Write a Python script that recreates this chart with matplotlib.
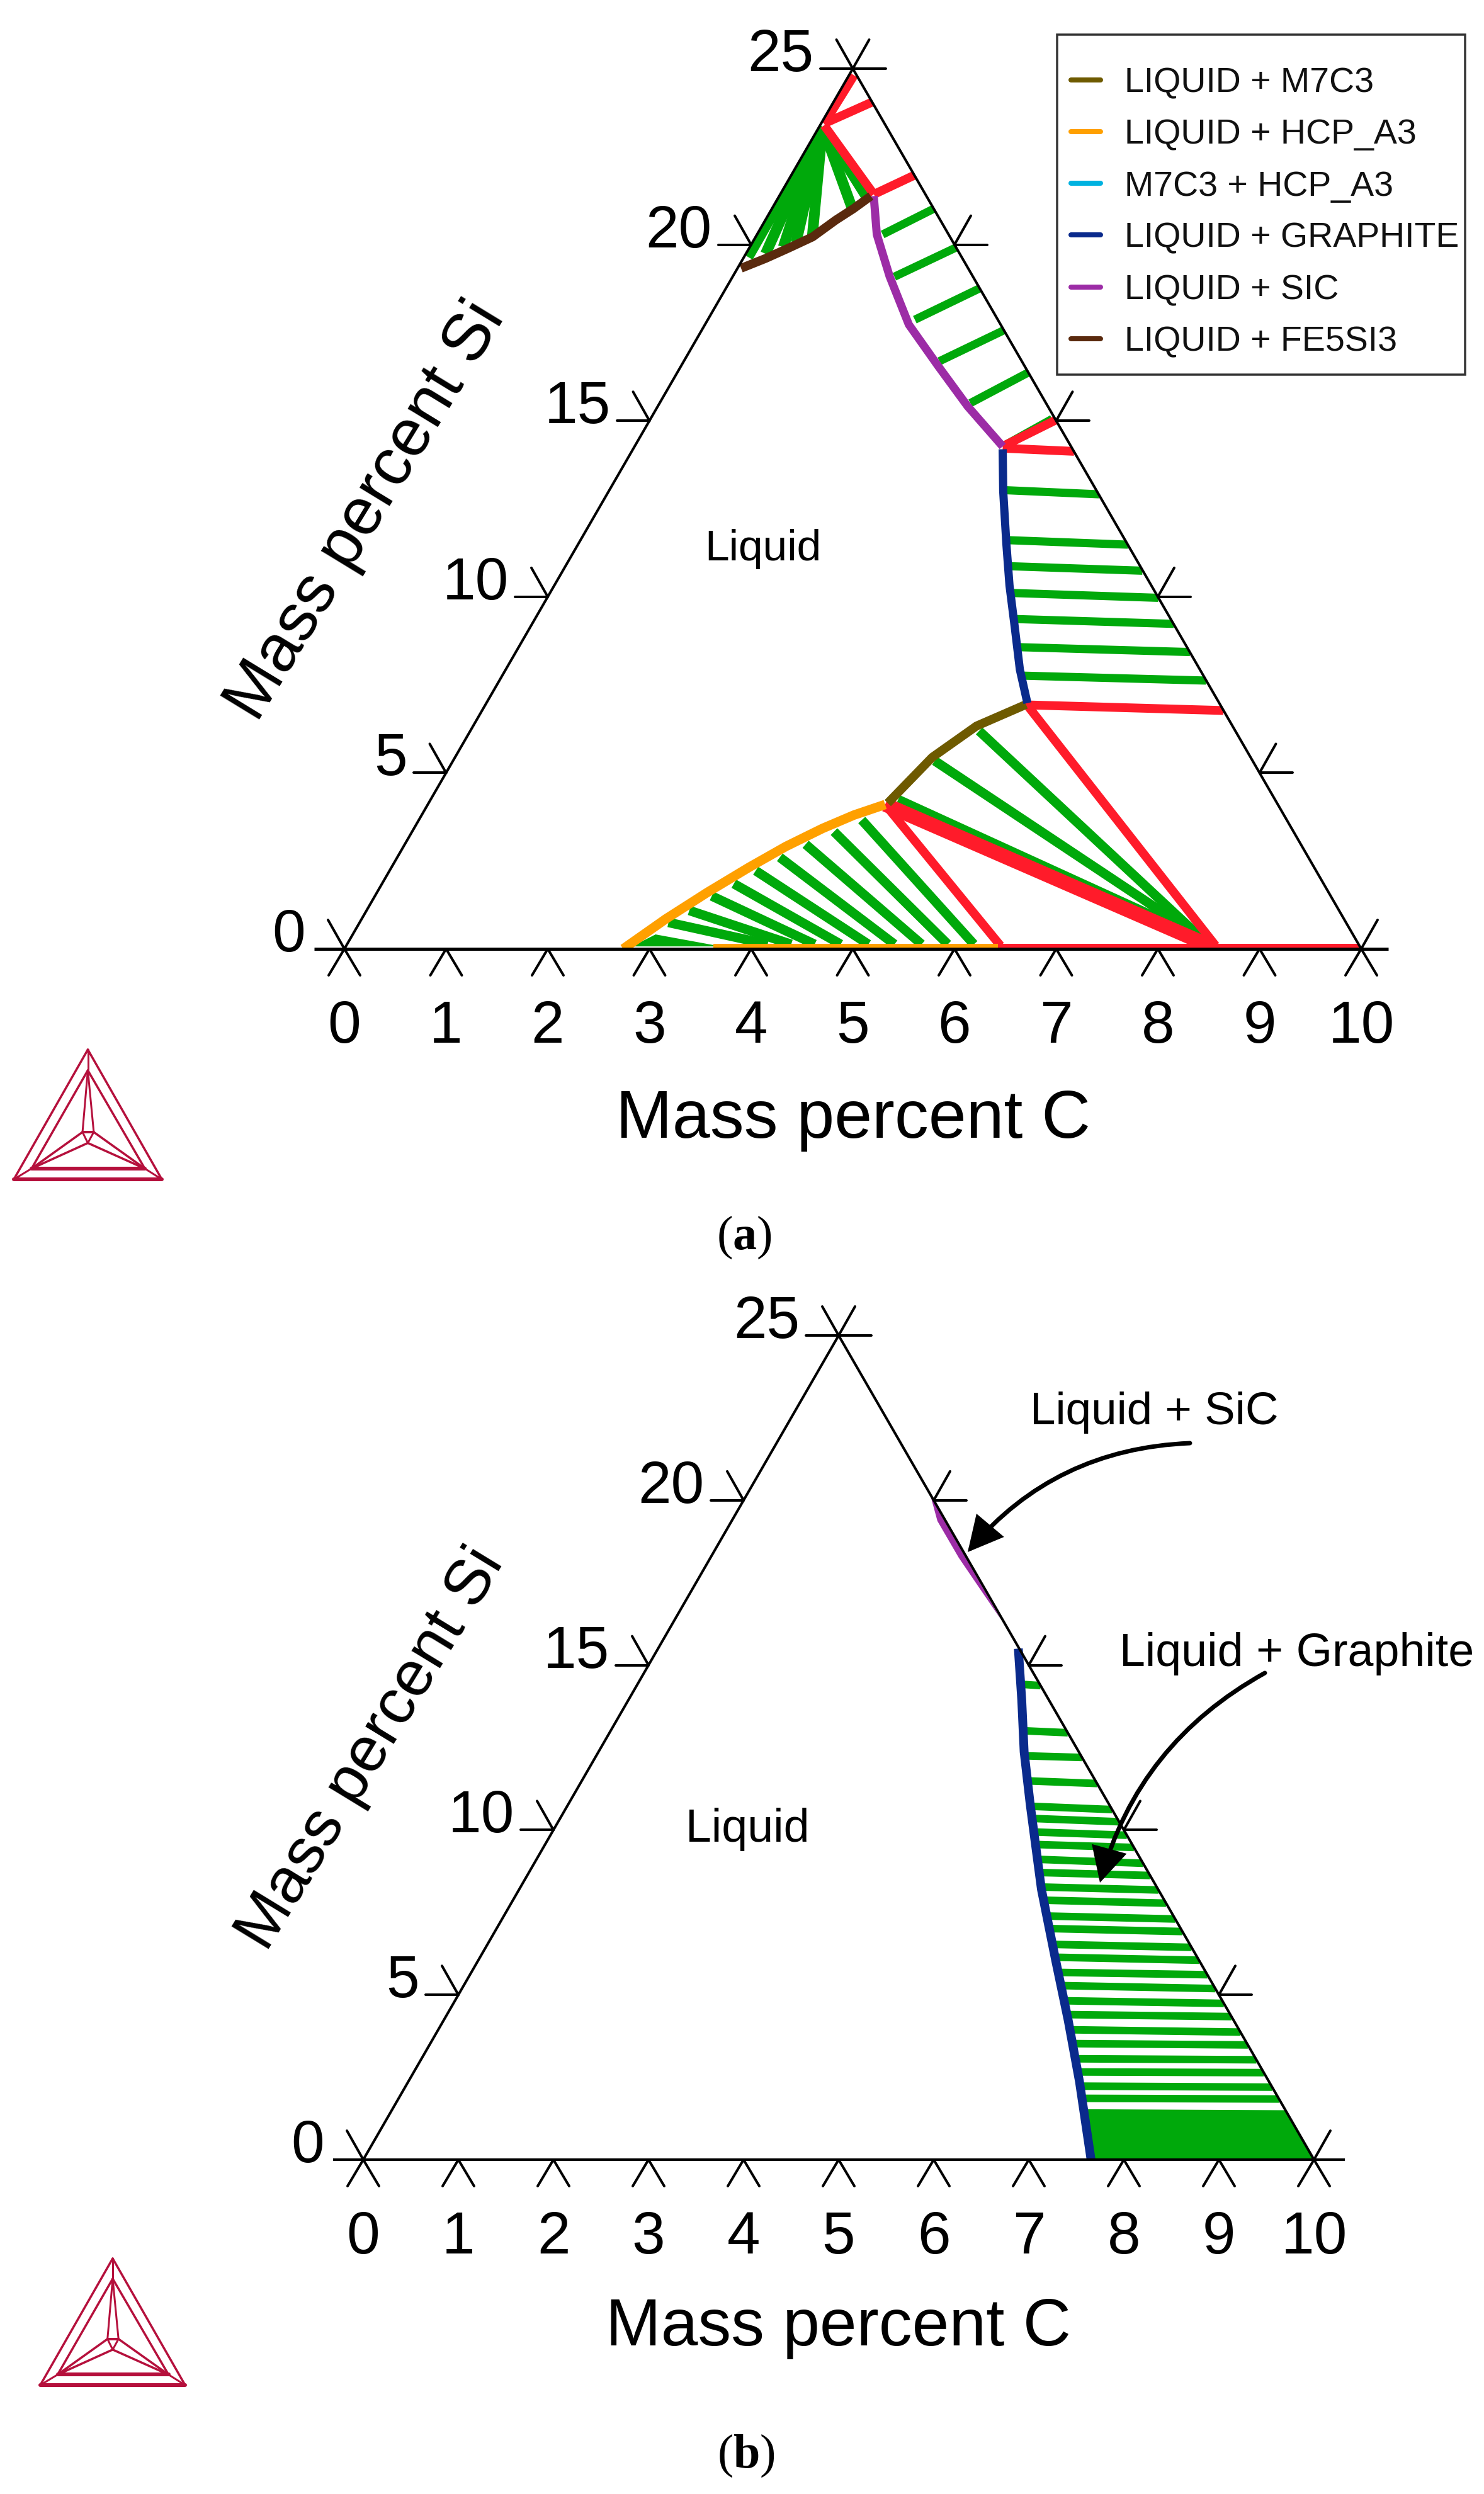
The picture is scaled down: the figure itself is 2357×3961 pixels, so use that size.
import numpy as np
import matplotlib
matplotlib.use("Agg")
import matplotlib.pyplot as plt
from matplotlib.lines import Line2D
from matplotlib.patches import Polygon, FancyArrowPatch, Rectangle

plt.rcParams['font.family'] = ['Liberation Sans', 'DejaVu Sans']
plt.rcParams['mathtext.fontset'] = 'custom'
plt.rcParams['mathtext.rm'] = 'Liberation Serif'
plt.rcParams['mathtext.bf'] = 'Liberation Serif:bold'

W, H, DPI = 2357, 3961, 100
PT = 72 / DPI

# ---------- data: (a) ----------
C_TICKS = list(range(11))
SI_TICKS = [0, 5, 10, 15, 20, 25]

a_m7c3_c = [5.315, 4.951, 4.693, 4.516]
a_m7c3_si = [6.94, 6.33, 5.44, 4.14]
a_hcp_c = [2.742, 2.991, 3.251, 3.518, 3.761, 4.018, 4.251, 4.498]
a_hcp_si = [0.0, 0.85, 1.61, 2.32, 2.91, 3.42, 3.80, 4.10]
a_hcp_base_c = [3.61, 6.41]
a_hcp_base_si = [0.08, 0.08]
a_graphite_c = [3.636, 3.879, 4.208, 4.477, 4.767, 5.057, 5.321]
a_graphite_si = [14.19, 13.0, 11.51, 10.32, 9.13, 7.93, 6.98]
a_sic_c = [0.93, 1.178, 1.542, 2.005, 2.53, 3.047, 3.62]
a_sic_si = [21.38, 20.29, 19.10, 17.73, 16.55, 15.41, 14.27]
a_fe5si3_c = [0.901, 0.801, 0.693, 0.56, 0.392, 0.221, 0.035]
a_fe5si3_si = [21.38, 21.02, 20.70, 20.22, 19.91, 19.61, 19.33]

# red invariant boundaries: c1, si1, c2, si2
a_red_c1 = [0.05, 0.03, 0.04, 0.921, 3.62, 3.63, 5.31, 4.498, 5.355]
a_red_si1 = [24.81, 23.44, 23.39, 21.43, 14.27, 14.22, 6.93, 4.10, 6.87]
a_red_c2 = [0.03, 0.38, 0.921, 1.215, 3.992, 4.35, 7.29, 6.434, 8.55]
a_red_si2 = [23.44, 24.05, 21.43, 21.98, 15.02, 14.13, 6.77, 0.09, 0.09]
a_red_thick_c1 = [4.498]
a_red_thick_si1 = [4.10]
a_red_thick_c2 = [8.481]
a_red_thick_si2 = [0.10]
a_red_base_c = [6.41, 10.0]
a_red_base_si = [0.08, 0.08]

# green tie lines, upper group
a_tie_c1 = [1.235, 1.591, 2.036, 2.514, 3.056, 3.62,
            3.873, 4.185, 4.35, 4.523, 4.705, 4.905, 5.11]
a_tie_si1 = [20.29, 19.09, 17.87, 16.69, 15.50, 14.27,
             13.03, 11.61, 10.87, 10.11, 9.37, 8.57, 7.76]
a_tie_c2 = [1.592, 2.032, 2.496, 2.972, 3.452, 3.95,
            4.84, 5.41, 5.70, 6.01, 6.31, 6.63, 6.95]
a_tie_si2 = [21.02, 19.92, 18.76, 17.57, 16.37, 15.05,
             12.91, 11.48, 10.74, 9.97, 9.23, 8.43, 7.62]
# green tie lines, lower group
a_low_c1 = [5.004, 4.738, 4.598,
            4.356, 4.149, 3.942, 3.762, 3.601, 3.46, 3.313, 3.174, 3.037]
a_low_si1 = [6.19, 5.34, 4.24,
             3.66, 3.33, 2.97, 2.60, 2.22, 1.85, 1.50, 1.09, 0.75]
a_low_c2 = [8.363, 8.363, 8.363,
            6.165, 5.908, 5.651, 5.384, 5.127, 4.855, 4.599, 4.368, 4.137]
a_low_si2 = [0.31, 0.31, 0.31,
             0.13, 0.13, 0.13, 0.13, 0.13, 0.13, 0.13, 0.13, 0.13]
a_fan_c = [0.04, 0.194, 0.33, 0.43, 0.554, 0.775, 0.859]
a_fan_si = [19.65, 19.74, 19.93, 20.06, 20.24, 21.07, 21.37]
a_fan_apex_c = 0.032
a_fan_apex_si = 23.35
a_wedge_c = [2.815, 2.978, 3.688]
a_wedge_si = [0.07, 0.41, 0.07]

LEGEND_LABELS = ['LIQUID + M7C3', 'LIQUID + HCP_A3', 'M7C3 + HCP_A3',
                 'LIQUID + GRAPHITE', 'LIQUID + SIC', 'LIQUID + FE5SI3']

# ---------- data: (b) ----------
b_graphite_c = [3.79, 4.138, 4.477, 4.866, 5.493, 6.067, 6.571, 7.059, 7.655]
b_graphite_si = [15.5, 13.94, 12.37, 10.75, 8.20, 6.07, 4.22, 2.37, 0.0]
b_sic_c = [1.953, 2.165, 2.611, 3.021, 3.432, 1.953]
b_sic_si = [20.09, 19.37, 18.26, 17.32, 16.38, 20.09]
b_tie_c1 = [4.033, 4.338, 4.502, 4.688, 4.871, 4.963, 5.062, 5.156, 5.27, 5.367,
            5.475, 5.581, 5.71, 5.813, 5.942, 6.046, 6.173, 6.281, 6.405, 6.519,
            6.643, 6.753, 6.876, 6.982, 7.093, 7.188]
b_tie_si1 = [14.42, 13.01, 12.25, 11.49, 10.72, 10.35, 9.94, 9.56, 9.11, 8.71,
             8.27, 7.87, 7.39, 7.01, 6.53, 6.14, 5.68, 5.28, 4.82, 4.40,
             3.94, 3.52, 3.06, 2.66, 2.23, 1.86]
b_tie_c2 = [4.248, 4.82, 5.12, 5.436, 5.752, 5.90, 6.064, 6.212, 6.404, 6.552,
            6.728, 6.888, 7.08, 7.232, 7.424, 7.58, 7.756, 7.924, 8.104, 8.264,
            8.452, 8.608, 8.788, 8.944, 9.12, 9.264]
b_tie_si2 = [14.38, 12.95, 12.20, 11.41, 10.62, 10.25, 9.84, 9.47, 8.99, 8.62,
             8.18, 7.78, 7.30, 6.92, 6.44, 6.05, 5.61, 5.19, 4.74, 4.34,
             3.87, 3.48, 3.03, 2.64, 2.20, 1.84]
b_solid_c = [7.27, 7.655, 10.0, 9.40]
b_solid_si = [1.53, 0.0, 0.0, 1.50]

GREEN = '#00A90B'
RED = '#FF1B2A'
NAVY = '#0A2A8C'
PURPLE = '#9C2CA6'
BROWN = '#5A2A0E'
OLIVE = '#6E5A00'
ORANGE = '#FFA000'
CYAN = '#00B2E0'
LOGO = '#B5103C'


def tern(c, si):
    c, si = np.asarray(c, float), np.asarray(si, float)
    return c + si / 5, si


fig = plt.figure(figsize=(W / DPI, H / DPI), dpi=DPI, facecolor='white')


def fx(px):
    return px / W


def fy(py):
    return 1 - py / H


def make_panel(x0, x10, y0, y25, base_l, base_r, base_lw):
    ax = fig.add_axes([fx(x0), fy(y0), (x10 - x0) / W, (y0 - y25) / H])
    ax.set_xlim(0, 10)
    ax.set_ylim(0, 25)
    ax.axis('off')
    pu, ps = (x10 - x0) / 10, (y0 - y25) / 25
    kw = dict(color='black', lw=4 * PT, clip_on=False, zorder=8, solid_capstyle='round')
    u, s = tern([0, 0, 10], [0, 25, 0])
    ax.plot([u[0], u[1], u[2]], [s[0], s[1], s[2]], **kw)
    ax.plot([(x0 - base_l) / -pu, (base_r - x0) / pu], [0, 0],
            color='black', lw=base_lw * PT, clip_on=False, zorder=8, solid_capstyle='butt')
    for c in C_TICKS:
        ax.plot([c - 25 / pu, c, c + 25 / pu], [-42 / ps, 0, -42 / ps], **kw)
    for si in SI_TICKS:
        ul = si / 5
        ur = 10 - si / 5
        ax.plot([ul - 26 / pu, ul], [si + 46 / ps, si], **kw)
        ax.plot([ur + 26 / pu, ur], [si + 46 / ps, si], **kw)
        if si > 0:
            ax.plot([ul - 52 / pu, ul], [si, si], **kw)
            ax.plot([ur + 52 / pu, ur], [si, si], **kw)
        ax.annotate(str(si), (ul, si), xytext=(-62 * PT, -4 * PT), textcoords='offset points',
                    ha='right', va='baseline', fontsize=68, annotation_clip=False)
    for c in C_TICKS:
        ax.annotate(str(c), (c, 0), xytext=(0, -149 * PT), textcoords='offset points',
                    ha='center', va='baseline', fontsize=68, annotation_clip=False)
    tri = Polygon(np.column_stack([[0, 10, 5], [0, 0, 25]]), closed=True, transform=ax.transData,
                  fc='none', ec='none')
    ax.add_patch(tri)
    return ax, tri


def segs(ax, tri, c1, s1, c2, s2, color, lw, z):
    for a, b, d, e in zip(c1, s1, c2, s2):
        u, s = tern([a, d], [b, e])
        ln, = ax.plot(u, s, color=color, lw=lw * PT, solid_capstyle='butt', zorder=z)
        ln.set_clip_path(tri)


def curve(ax, c, si, color, lw=12, clip=None, z=5):
    u, s = tern(c, si)
    ln, = ax.plot(u, s, color=color, lw=lw * PT, solid_capstyle='butt',
                  solid_joinstyle='round', zorder=z, clip_on=clip is not None)
    if clip is not None:
        ln.set_clip_path(clip)
    return ln


def logo(px_left, py_top, w, h):
    ax = fig.add_axes([fx(px_left), fy(py_top + h), w / W, h / H])
    ax.set_xlim(0, 1)
    ax.set_ylim(0, 1)
    ax.axis('off')
    A, L, R = (.5, 1), (0, 0), (1, 0)
    a, l, r = (.5, .84), (.12, .083), (.885, .083)
    p, q, m = (.464, .364), (.54, .364), (.5, .28)
    for P, Q, lw in [(A, L, 3.5), (A, R, 3.5), (L, R, 6), (a, l, 3.5), (a, r, 3.5), (l, r, 6),
                     (A, a, 3), (L, l, 3), (R, r, 3), (a, p, 3), (a, q, 3), (p, q, 4),
                     (p, l, 3.5), (q, r, 3.5), (p, m, 3), (q, m, 3), (m, l, 3.5), (m, r, 3.5)]:
        ax.plot([P[0], Q[0]], [P[1], Q[1]], color=LOGO, lw=lw * PT, clip_on=False,
                solid_capstyle='round')


def ftext(px, py, s, **kw):
    return fig.text(fx(px), fy(py), s, **kw)


# ---------- panel (a) ----------
ax, tri = make_panel(547, 2162, 1507, 109, 499, 2205, 5)
segs(ax, tri, a_tie_c1, a_tie_si1, a_tie_c2, a_tie_si2, GREEN, 13, 2)
segs(ax, tri, a_low_c1, a_low_si1, a_low_c2, a_low_si2, GREEN, 15, 2)
segs(ax, tri, [a_fan_apex_c] * len(a_fan_c), [a_fan_apex_si] * len(a_fan_c), a_fan_c, a_fan_si, GREEN, 17, 2)
u, s = tern(a_wedge_c, a_wedge_si)
ax.fill(u, s, color=GREEN, lw=0, zorder=2)
segs(ax, tri, a_red_c1, a_red_si1, a_red_c2, a_red_si2, RED, 14, 3)
segs(ax, tri, a_red_thick_c1, a_red_thick_si1, a_red_thick_c2, a_red_thick_si2, RED, 23, 3)
segs(ax, tri, a_red_base_c[:1], a_red_base_si[:1], a_red_base_c[1:], a_red_base_si[1:], RED, 8, 3)
l1 = curve(ax, a_m7c3_c, a_m7c3_si, OLIVE, 14)
l2 = curve(ax, a_hcp_c, a_hcp_si, ORANGE, 15, clip=tri)
l2b = curve(ax, a_hcp_base_c, a_hcp_base_si, ORANGE, 8, clip=tri)
l4 = curve(ax, a_graphite_c, a_graphite_si, NAVY, 13)
l5 = curve(ax, a_sic_c, a_sic_si, PURPLE, 13)
l6 = curve(ax, a_fe5si3_c, a_fe5si3_si, BROWN, 14)
l3 = Line2D([], [], color=CYAN)
handles = [Line2D([], [], color=h.get_color(), lw=8 * PT, solid_capstyle='round')
           for h in (l1, l2, l3, l4, l5, l6)]
fig.add_artist(Rectangle((fx(1679), fy(595)), (2327 - 1679) / W, (595 - 55) / H,
                         transform=fig.transFigure, fc='white', ec='#333333', lw=3.5 * PT))
leg = fig.legend(handles, LEGEND_LABELS, loc='upper left',
                 bbox_to_anchor=(fx(1701), fy(106)), fontsize=40, frameon=False,
                 handlelength=0.85, handletextpad=0.68,
                 labelspacing=0.545, borderpad=0, borderaxespad=0, labelcolor='#111111')
leg.set_zorder(10)

ftext(1212, 872, 'Liquid', fontsize=50, ha='center', va='center')
ftext(1355, 1807, 'Mass percent C', fontsize=77.5, ha='center', va='baseline')
ftext(582, 812, 'Mass percent Si', fontsize=76, ha='center', va='center', rotation=58.6,
      rotation_mode='anchor')
ftext(1182, 1965, r'($\mathbf{a}$)', fontsize=55, ha='center', va='center', family='Liberation Serif')
logo(22, 1667, 235, 206)

# ---------- panel (b) ----------
ax, tri = make_panel(577, 2087, 3430, 2121, 529, 2136, 4)
segs(ax, tri, b_tie_c1, b_tie_si1, b_tie_c2, b_tie_si2, GREEN, 12, 2)
u, s = tern(b_solid_c, b_solid_si)
ax.fill(u, s, color=GREEN, lw=0, zorder=2)
u, s = tern(b_sic_c, b_sic_si)
ax.fill(u, s, color=PURPLE, lw=0, zorder=2, clip_on=False)
curve(ax, b_graphite_c, b_graphite_si, NAVY, 14)

ftext(1187, 2905, 'Liquid', fontsize=53, ha='center', va='center')
ftext(1833, 2262, 'Liquid + SiC', fontsize=52.5, ha='center', va='baseline')
ftext(2060, 2646, 'Liquid + Graphite', fontsize=53, ha='center', va='baseline')
ftext(1332, 3725, 'Mass percent C', fontsize=76, ha='center', va='baseline')
ftext(590, 2778, 'Mass percent Si', fontsize=73, ha='center', va='center', rotation=58.6,
      rotation_mode='anchor')
ftext(1185, 3900, r'($\mathbf{b}$)', fontsize=55, ha='center', va='center', family='Liberation Serif')
logo(64, 3587, 230, 201)

for (ax0, ay0, bx0, by0, rad) in [(1890, 2292, 1537, 2465, 0.22), (2009, 2657, 1747, 2990, 0.21)]:
    arrow = FancyArrowPatch((fx(ax0), fy(ay0)), (fx(bx0), fy(by0)), transform=fig.transFigure,
                            connectionstyle=f'arc3,rad={rad}',
                            arrowstyle='-|>,head_length=32,head_width=16.5', mutation_scale=1,
                            lw=7 * PT, color='black', shrinkA=0, shrinkB=0, zorder=20,
                            capstyle='round', joinstyle='miter')
    fig.add_artist(arrow)

fig.savefig('out.png', dpi=DPI, facecolor='white')
